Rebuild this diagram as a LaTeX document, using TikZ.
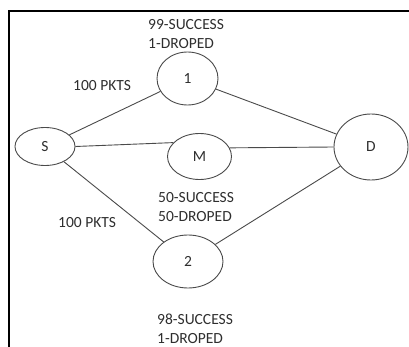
\documentclass[tikz,border=0pt]{standalone}
\usepackage{fontspec}
\setmainfont{Carlito}
\usetikzlibrary{shapes.geometric}
\definecolor{ink}{HTML}{2E2E2E}
\definecolor{edge}{HTML}{4A4A4A}
\begin{document}
\begin{tikzpicture}[x=1pt,y=-1pt,
  site/.style={draw=edge, line width=0.9pt, ellipse, inner sep=0pt,
    font=\fontsize{15.5}{18}\selectfont, text=ink},
  link/.style={draw=edge, line width=0.9pt},
  note/.style={font=\fontsize{15.5}{18}\selectfont, text=ink,
    inner sep=0pt, anchor=base west}]
\useasboundingbox (0,0) rectangle (409,347);
% open frame: top and left rules only
\draw[line width=2.2pt] (9,347) -- (9,11) -- (409,11);

% stations
\node[site, minimum width=60pt, minimum height=38pt] (s)  at (45,146.5)  {S};
\node[site, minimum width=61pt, minimum height=53pt] (n1) at (187.5,78.5) {1};
\node[site, minimum width=64pt, minimum height=46pt] (m)  at (199.5,156.5) {M};
\node[site, minimum width=74pt, minimum height=66pt] (d)  at (371,147)   {D};
\node[site, minimum width=70pt, minimum height=53pt] (n2) at (188,261.5)  {2};

% links
\draw[link] (s) -- (n1);
\draw[link] (s.east) -- (m.152);
\draw[link] (m.16) -- (d.west);
\draw[link] (n1) -- (d);
\draw[link] (s) -- (n2);
\draw[link] (n2) -- (d);

% delivery notes
\node[note] (t1a) at (148,30)   {99-SUCCESS};
\node[note] (t1b) at (148,49)   {1-DROPED};
\node[note] (tp1) at (73,91)    {100 PKTS};
\node[note] (tma) at (158,202.5) {50-SUCCESS};
\node[note] (tmb) at (158,221.5) {50-DROPED};
\node[note] (tp2) at (58,227)   {100 PKTS};
\node[note] (t2a) at (157,324)  {98-SUCCESS};
\node[note] (t2b) at (157,343)  {1-DROPED};
\end{tikzpicture}
\end{document}
